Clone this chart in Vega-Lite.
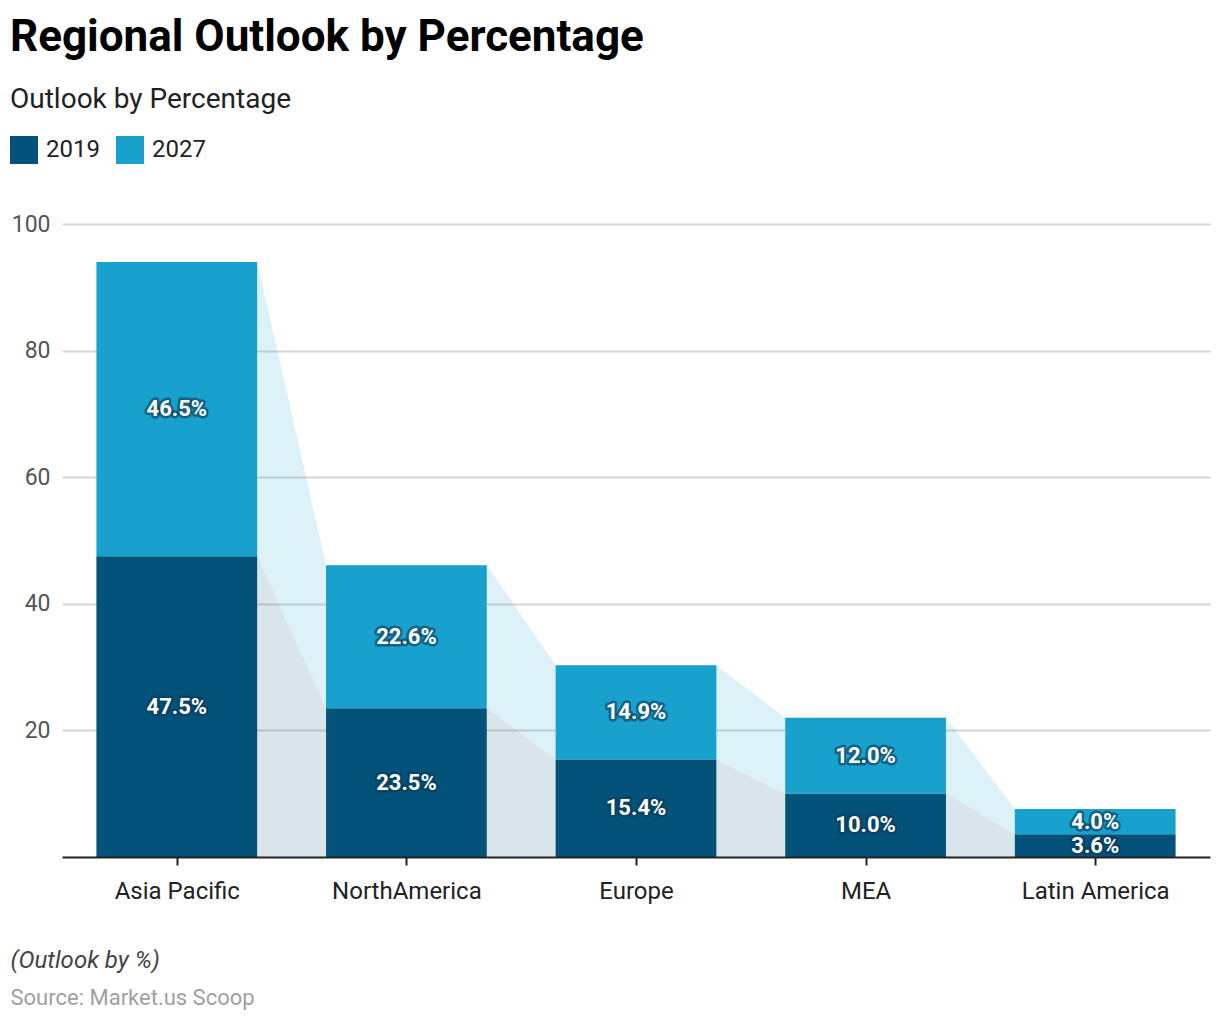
{
  "$schema": "https://vega.github.io/schema/vega-lite/v6.json",
  "width": 1148,
  "height": 633,
  "autosize": "none",
  "padding": {"left": 62, "top": 224, "right": 10, "bottom": 163},
  "background": "white",
  "config": {"font": "Roboto", "view": {"stroke": null}},
  "datasets": {
    "shares": [
      {"region": "Asia Pacific", "year": "2019", "value": 47.5},
      {"region": "Asia Pacific", "year": "2027", "value": 46.5},
      {"region": "NorthAmerica", "year": "2019", "value": 23.5},
      {"region": "NorthAmerica", "year": "2027", "value": 22.6},
      {"region": "Europe", "year": "2019", "value": 15.4},
      {"region": "Europe", "year": "2027", "value": 14.9},
      {"region": "MEA", "year": "2019", "value": 10.0},
      {"region": "MEA", "year": "2027", "value": 12.0},
      {"region": "Latin America", "year": "2019", "value": 3.6},
      {"region": "Latin America", "year": "2027", "value": 4.0}
    ]
  },
  "data": {"name": "shares"},
  "transform": [
    {"window": [{"op": "row_number", "as": "rn"}], "groupby": ["year"]},
    {"calculate": "datum.rn - 1", "as": "idx"}
  ],
  "title": {
    "text": "Regional Outlook by Percentage",
    "subtitle": "Outlook by Percentage",
    "anchor": "start",
    "frame": "group",
    "dx": -52,
    "offset": 22,
    "fontSize": 44,
    "fontWeight": "bold",
    "color": "#000000",
    "subtitleFontSize": 28,
    "subtitleColor": "#222222",
    "subtitlePadding": 26
  },
  "layer": [
    {
      "transform": [
        {"joinaggregate": [{"op": "sum", "field": "value", "as": "total"}], "groupby": ["region"]},
        {"filter": "datum.year == '2019'"},
        {"calculate": "datum.idx - 0.35", "as": "leftEdge"},
        {"calculate": "datum.idx + 0.35", "as": "rightEdge"},
        {"fold": ["leftEdge", "rightEdge"], "as": ["edge", "xpos"]}
      ],
      "mark": {"type": "area", "color": "#19a1cd", "opacity": 0.15},
      "encoding": {
        "x": {"field": "xpos", "type": "quantitative"},
        "y": {"field": "total", "type": "quantitative"},
        "y2": {"field": "value"}
      }
    },
    {
      "transform": [
        {"filter": "datum.year == '2019'"},
        {"calculate": "datum.idx - 0.35", "as": "leftEdge"},
        {"calculate": "datum.idx + 0.35", "as": "rightEdge"},
        {"fold": ["leftEdge", "rightEdge"], "as": ["edge", "xpos"]}
      ],
      "mark": {"type": "area", "color": "#03527a", "opacity": 0.15},
      "encoding": {
        "x": {"field": "xpos", "type": "quantitative"},
        "y": {"field": "value", "type": "quantitative"},
        "y2": {"datum": 0}
      }
    },
    {
      "transform": [
        {"stack": "value", "groupby": ["region"], "sort": [{"field": "year", "order": "ascending"}], "as": ["y0", "y1"]},
        {"calculate": "datum.idx - 0.35", "as": "leftEdge"},
        {"calculate": "datum.idx + 0.35", "as": "rightEdge"}
      ],
      "mark": {"type": "bar"},
      "encoding": {
        "x": {
          "field": "leftEdge", "type": "quantitative",
          "scale": {"domain": [-0.5, 4.5], "nice": false, "zero": false},
          "axis": {
            "values": [0, 1, 2, 3, 4],
            "labelExpr": "['Asia Pacific', 'NorthAmerica', 'Europe', 'MEA', 'Latin America'][datum.value]",
            "grid": false,
            "labelFontSize": 24, "labelColor": "#222222", "labelPadding": 14,
            "domainColor": "#222222", "domainWidth": 2, "tickColor": "#222222", "tickWidth": 2, "tickSize": 8,
            "zindex": 1,
            "title": "(Outlook by %)", "titleFontStyle": "italic", "titleFontWeight": "normal", "titleFontSize": 24,
            "titleColor": "#444444", "titleX": -52, "titleY": 110, "titleAlign": "left", "titleBaseline": "alphabetic"
          }
        },
        "x2": {"field": "rightEdge"},
        "y": {
          "field": "y0", "type": "quantitative",
          "scale": {"domain": [0, 100], "nice": false},
          "axis": {
            "values": [20, 40, 60, 80, 100], "domain": false, "ticks": false,
            "grid": true, "gridColor": "#d6d6d6", "gridWidth": 2,
            "labelFontSize": 23, "labelColor": "#555555", "labelPadding": 12,
            "title": "Source: Market.us Scoop", "titleAngle": 0, "titleX": -52, "titleY": 780,
            "titleAlign": "left", "titleBaseline": "alphabetic", "titleFontSize": 22,
            "titleFontWeight": "normal", "titleColor": "#a0a0a0"
          }
        },
        "y2": {"field": "y1"},
        "color": {
          "field": "year", "type": "nominal",
          "scale": {"domain": ["2019", "2027"], "range": ["#03527a", "#19a1cd"]},
          "legend": {
            "title": null, "orient": "none", "direction": "horizontal", "legendX": -52, "legendY": -88,
            "symbolType": "square", "symbolSize": 784, "symbolStrokeWidth": 0, "symbolOpacity": 1,
            "labelFontSize": 24, "labelColor": "#222222", "labelOffset": 8, "columnPadding": 16
          }
        }
      }
    },
    {
      "transform": [
        {"stack": "value", "groupby": ["region"], "sort": [{"field": "year", "order": "ascending"}], "as": ["y0", "y1"]},
        {"calculate": "(datum.y0 + datum.y1) / 2", "as": "mid"},
        {"calculate": "format(datum.value, '.1f') + '%'", "as": "label"}
      ],
      "mark": {"type": "text", "fontSize": 22, "fontWeight": "bold", "stroke": "#0a3a57", "strokeWidth": 5, "strokeOpacity": 0.6, "strokeJoin": "round", "fill": "#0a3a57", "fillOpacity": 0.6, "baseline": "middle"},
      "encoding": {
        "x": {"field": "idx", "type": "quantitative"},
        "y": {"field": "mid", "type": "quantitative"},
        "text": {"field": "label"}
      }
    },
    {
      "transform": [
        {"stack": "value", "groupby": ["region"], "sort": [{"field": "year", "order": "ascending"}], "as": ["y0", "y1"]},
        {"calculate": "(datum.y0 + datum.y1) / 2", "as": "mid"},
        {"calculate": "format(datum.value, '.1f') + '%'", "as": "label"}
      ],
      "mark": {"type": "text", "fontSize": 22, "fontWeight": "bold", "color": "#ffffff", "baseline": "middle"},
      "encoding": {
        "x": {"field": "idx", "type": "quantitative"},
        "y": {"field": "mid", "type": "quantitative"},
        "text": {"field": "label"}
      }
    }
  ]
}
